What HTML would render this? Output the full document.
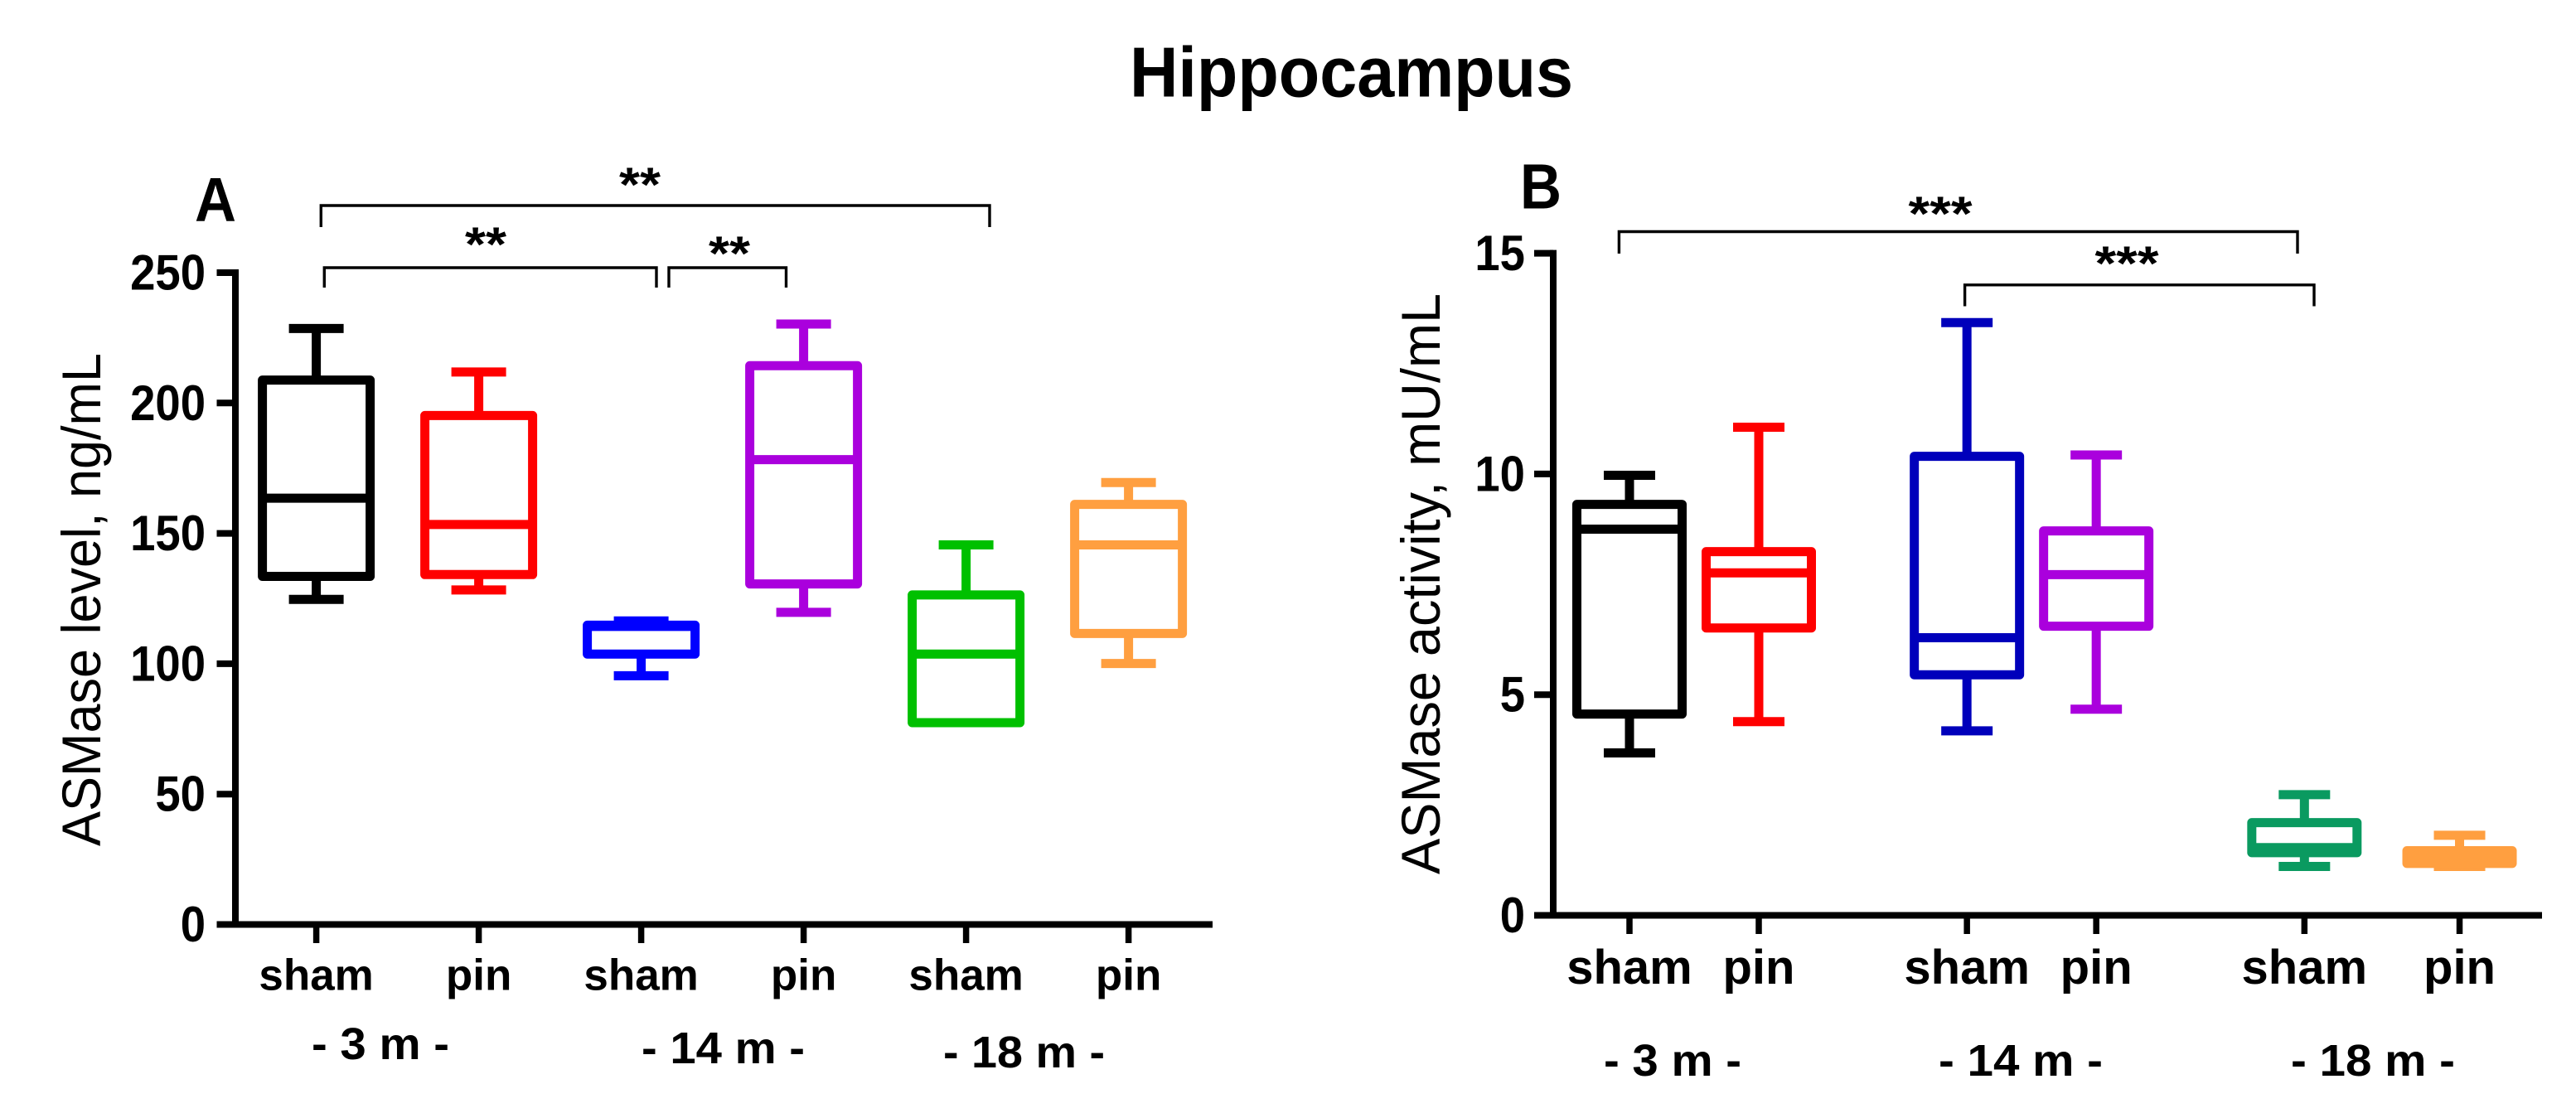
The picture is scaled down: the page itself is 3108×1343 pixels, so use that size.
<!DOCTYPE html>
<html>
<head>
<meta charset="utf-8">
<title>Hippocampus ASMase</title>
<style>
html,body{margin:0;padding:0;background:#fff;}
svg{display:block;font-family:"Liberation Sans",sans-serif;}
</style>
</head>
<body>
<svg id="figure" width="3108" height="1343" viewBox="0 0 3108 1343" xmlns="http://www.w3.org/2000/svg">
<rect x="0" y="0" width="3108" height="1343" fill="#fff"/>
<text x="1363" y="116.5" font-size="85" font-weight="700" textLength="535" lengthAdjust="spacingAndGlyphs">Hippocampus</text>
<text x="235" y="266.5" font-size="75" font-weight="700" textLength="50" lengthAdjust="spacingAndGlyphs">A</text>
<text x="1834" y="251.5" font-size="77" font-weight="700" textLength="50" lengthAdjust="spacingAndGlyphs">B</text>
<text transform="translate(121 1021) rotate(-90)" font-size="66" textLength="595" lengthAdjust="spacingAndGlyphs">ASMase level, ng/mL</text>
<text transform="translate(1737 1055) rotate(-90)" font-size="66" textLength="701" lengthAdjust="spacingAndGlyphs">ASMase activity, mU/mL</text>

<g fill="none" stroke="#000" stroke-width="3.4">
<path d="M387.3 274V248H1194V274"/>
<path d="M391.3 347V323H792V347"/>
<path d="M807 347V323H948.5V347"/>
</g>
<g fill="none" stroke="#000" stroke-width="3.4">
<path d="M1953.4 306V279.5H2772V306"/>
<path d="M2370.6 369.5V343.8H2792V369.5"/>
</g>
<g font-size="58" font-weight="700" text-anchor="middle">
<text x="772" y="243" textLength="50" lengthAdjust="spacingAndGlyphs">**</text>
<text x="586" y="315" textLength="50" lengthAdjust="spacingAndGlyphs">**</text>
<text x="880" y="326" textLength="50" lengthAdjust="spacingAndGlyphs">**</text>
<text x="2341" y="278" textLength="77" lengthAdjust="spacingAndGlyphs">***</text>
<text x="2566" y="338" textLength="77" lengthAdjust="spacingAndGlyphs">***</text>
</g>
<g font-size="54" font-weight="700">
<text x="376" y="1278" textLength="166" lengthAdjust="spacingAndGlyphs" xml:space="preserve">- 3 m -</text>
<text x="774" y="1283" textLength="197" lengthAdjust="spacingAndGlyphs" xml:space="preserve">- 14 m -</text>
<text x="1138" y="1288" textLength="195" lengthAdjust="spacingAndGlyphs" xml:space="preserve">- 18 m -</text>
<text x="1935" y="1298" textLength="166" lengthAdjust="spacingAndGlyphs" xml:space="preserve">- 3 m -</text>
<text x="2339" y="1298" textLength="198" lengthAdjust="spacingAndGlyphs" xml:space="preserve">- 14 m -</text>
<text x="2764" y="1298" textLength="198" lengthAdjust="spacingAndGlyphs" xml:space="preserve">- 18 m -</text>
</g>
<g id="panel-a"></g>
<g id="panel-b"></g>
</svg>
<script>
// Panel A data (ASMase level, ng/mL)
const aCategories = ['sham', 'pin', 'sham', 'pin', 'sham', 'pin'];
const aSlots = [0, 1, 2, 3, 4, 5];
const aLow = [124.7, 128.3, 95.4, 119.7, 77.4, 100.1];
const aQ1 = [133.5, 134.2, 103.7, 130.6, 77.4, 111.6];
const aMedian = [163.5, 153.4, 114.3, 178.3, 103.7, 145.6];
const aQ3 = [208.8, 195.2, 114.8, 214.3, 126.4, 161.1];
const aHigh = [228.6, 211.9, 116.4, 230.3, 145.6, 169.5];
const aTicks = [0, 50, 100, 150, 200, 250];

// Panel B data (ASMase activity, mU/mL)
const bCategories = ['sham', 'pin', 'sham', 'pin', 'sham', 'pin'];
const bSlots = [0, 1, 2.61, 3.61, 5.22, 6.42];
const bLow = [3.68, 4.39, 4.18, 4.67, 1.108, 1.108];
const bQ1 = [4.56, 6.51, 5.45, 6.55, 1.42, 1.177];
const bMedian = [8.75, 7.76, 6.29, 7.72, 1.534, 1.32];
const bQ3 = [9.31, 8.24, 10.40, 8.71, 2.10, 1.465];
const bHigh = [9.97, 11.06, 13.43, 10.43, 2.735, 1.815];
const bTicks = [0, 5, 10, 15];

const aColors = ['#000000', '#ff0000', '#0000ff', '#aa00dd', '#00c000', '#ff9f40'];
const bColors = ['#000000', '#ff0000', '#0000bb', '#aa00dd', '#0a9a60', '#ff9f40'];

const NS = 'http://www.w3.org/2000/svg';
function mk(parent, tag, attrs) {
  const el = document.createElementNS(NS, tag);
  for (const k in attrs) el.setAttribute(k, attrs[k]);
  parent.appendChild(el);
  return el;
}

// Axis functions
const xA = s => 381.6 + s * 196;
const yA = v => 1115.5 - v * 3.146;
const xB = s => 1966 + s * 156;
const yB = v => 1104.5 - v * 53.26;

function drawPanel(root, cfg) {
  const x = cfg.x, y = cfg.y;
  const axisY = y(0);
  const yaxis = mk(root, 'path', { d: 'M' + cfg.axisX + ' ' + (y(cfg.ticks[cfg.ticks.length - 1]) - 4) + 'V' + axisY, fill: 'none', stroke: '#000', 'stroke-width': 8 });
  
  
  const xaxis = mk(root, 'path', { d: 'M' + cfg.axisStart + ' ' + axisY + 'H' + cfg.axisEnd, fill: 'none', stroke: '#000', 'stroke-width': 8 });
  
  

  cfg.ticks.forEach(t => {
    const tick = mk(root, 'path', { d: 'M' + cfg.axisStart + ' ' + y(t) + 'H' + cfg.axisX, fill: 'none', stroke: '#000', 'stroke-width': 8 });
    
    
    const label = mk(root, 'text', { x: cfg.tickRight, y: y(t) + 20.5, 'font-size': 60, 'font-weight': 700, 'text-anchor': 'end', textLength: String(t).length * 30.3, lengthAdjust: 'spacingAndGlyphs' });
    label.textContent = String(t);
    
    
  });

  cfg.categories.forEach((cat, i) => {
    const cx = x(cfg.slots[i]);
    const tick = mk(root, 'path', { d: 'M' + cx + ' ' + axisY + 'V' + (axisY + 22.5), fill: 'none', stroke: '#000', 'stroke-width': 7.5 });
    
    
    const label = mk(root, 'text', { x: cx, y: cfg.catBaseline, 'font-size': cfg.catFont, 'font-weight': 700, 'text-anchor': 'middle' });
    label.textContent = cat;
    
    

    const color = cfg.colors[i];
    const g = mk(root, 'g', { fill: 'none', stroke: color, 'stroke-width': 11 });
    
    
    const whisker = mk(g, 'path', { d: 'M' + cx + ' ' + y(cfg.high[i]) + 'V' + y(cfg.low[i]) });
    
    
    const capHi = mk(g, 'path', { d: 'M' + (cx - cfg.capHalf) + ' ' + y(cfg.high[i]) + 'H' + (cx + cfg.capHalf) });
    
    
    const capLo = mk(g, 'path', { d: 'M' + (cx - cfg.capHalf) + ' ' + y(cfg.low[i]) + 'H' + (cx + cfg.capHalf) });
    
    
    const box = mk(g, 'rect', { x: cx - cfg.boxHalf, y: y(cfg.q3[i]), width: cfg.boxHalf * 2, height: y(cfg.q1[i]) - y(cfg.q3[i]), fill: '#fff', 'stroke-linejoin': 'round' });
    
    
    const med = mk(g, 'path', { d: 'M' + (cx - cfg.boxHalf) + ' ' + y(cfg.median[i]) + 'H' + (cx + cfg.boxHalf) });
    
    
  });
}

drawPanel(document.getElementById('panel-a'), {
  id: 'a', x: xA, y: yA, categories: aCategories, slots: aSlots, ticks: aTicks, low: aLow, q1: aQ1, median: aMedian, q3: aQ3, high: aHigh, colors: aColors,
  axisX: 284, axisStart: 261.5, axisEnd: 1463, tickRight: 248, catBaseline: 1194.5, catFont: 53, capHalf: 33, boxHalf: 65
});
drawPanel(document.getElementById('panel-b'), {
  id: 'b', x: xB, y: yB, categories: bCategories, slots: bSlots, ticks: bTicks, low: bLow, q1: bQ1, median: bMedian, q3: bQ3, high: bHigh, colors: bColors,
  axisX: 1874, axisStart: 1851, axisEnd: 3067, tickRight: 1840, catBaseline: 1187, catFont: 58, capHalf: 31, boxHalf: 63.5
});
</script>
</body>
</html>
